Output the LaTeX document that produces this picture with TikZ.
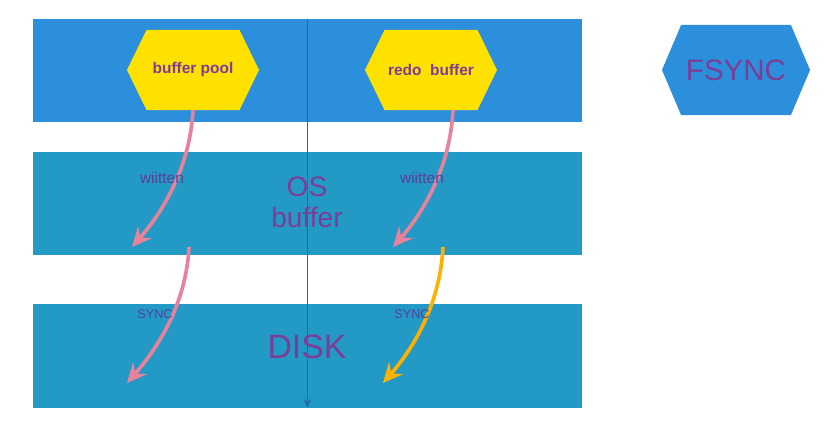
\documentclass[tikz,border=0pt]{standalone}
\usepackage{fontspec}
\setmainfont{Liberation Sans}
\usetikzlibrary{positioning,arrows.meta,shapes.symbols}
\definecolor{topblue}{HTML}{2B8FDB}
\definecolor{lowblue}{HTML}{2399C6}
\definecolor{hexyellow}{HTML}{FFE100}
\definecolor{txtpurple}{HTML}{7D3C98}
\definecolor{tagpurple}{HTML}{583F98}
\definecolor{pinkflow}{HTML}{E8829B}
\definecolor{orangeflow}{HTML}{FFB000}
\definecolor{axisblue}{HTML}{1F6EA6}

\begin{document}
\begin{tikzpicture}[x=0.025cm,y=-0.025cm,
  band/.style={rectangle,inner sep=0,outer sep=0,minimum width=13.725cm,minimum height=2.575cm},
  hexa/.style={signal,signal to=west and east,signal pointer angle=128,inner sep=0,outer sep=0,
    minimum width=3.3cm,minimum height=2cm,fill=hexyellow,text=txtpurple,font=\fontsize{11}{13}\selectfont\bfseries},
  flow/.style={-{Stealth[length=14pt,width=13pt,inset=5pt]},line width=2.6pt},
  tag/.style={text=tagpurple,font=\fontsize{11}{13}\selectfont},
  big/.style={text=txtpurple,align=center}
]
  \useasboundingbox (0,0) rectangle (840,427);
  \node[band,fill=topblue] (buf) at (307.5,70.5) {};
  \node[band,fill=lowblue] (os) at (307.5,203.5) {};
  \node[band,fill=lowblue] (disk) at (307.5,356) {};
  \draw[axisblue,line width=0.9pt,-{Stealth[length=6pt,width=6pt]}] (buf.north) -- (disk.south);
  \node[big,font=\fontsize{20}{22}\selectfont] (ost) at (307,202) {OS\\buffer};
  \node[big,font=\fontsize{24}{26}\selectfont] (dkt) at (307,347) {DISK};
  \node[hexa] (bp) at (193,70) {buffer pool};
  \node[hexa] (rb) at (431,70) {redo\ \ buffer};
  \node[hexa,fill=topblue,signal pointer angle=134,minimum width=3.7cm,minimum height=2.25cm,
    font=\fontsize{21}{23}\selectfont\mdseries] (fs) at (736,70) {FSYNC};
  \coordinate (w1s) at (193,110);
  \coordinate (w1e) at (132,247);
  \coordinate (w2s) at (453,110);
  \coordinate (w2e) at (393,247);
  \coordinate (s1s) at (189,247);
  \coordinate (s1e) at (127,383);
  \coordinate (s2s) at (443,247);
  \coordinate (s2e) at (383,383);
  \draw[flow,pinkflow] (w1s) .. controls +(-3,60) and +(28,-32) .. (w1e);
  \draw[flow,pinkflow] (w2s) .. controls +(-3,60) and +(28,-32) .. (w2e);
  \draw[flow,pinkflow] (s1s) .. controls +(-3,60) and +(28,-32) .. (s1e);
  \draw[flow,orangeflow] (s2s) .. controls +(-3,60) and +(28,-32) .. (s2e);
  \node[tag] (l1) at (162,178) {wiitten};
  \node[tag] (l2) at (422,178) {wiitten};
  \node[tag,font=\fontsize{9}{11}\selectfont] (l3) at (155,314) {SYNC};
  \node[tag,font=\fontsize{9}{11}\selectfont] (l4) at (412,314) {SYNC};
\end{tikzpicture}
\end{document}
